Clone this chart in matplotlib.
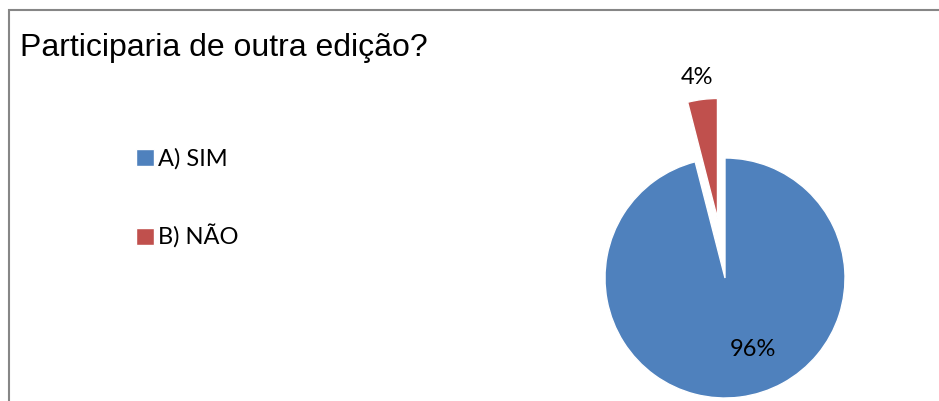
import matplotlib.pyplot as plt
from matplotlib.patches import Rectangle

# data
labels = ["A) SIM", "B) NÃO"]
values = [96, 4]
colors = ["#4F81BD", "#C0504D"]
title = "Participaria de outra edição?"

W, H = 939, 401
fig = plt.figure(figsize=(W / 100, H / 100), dpi=100)

# outer chart border (gray, like the spreadsheet frame)
fig.patches.append(Rectangle((9 / W, -0.1), 1.2, (H - 10) / H + 0.1,
                             transform=fig.transFigure, fill=False,
                             edgecolor="#868686", linewidth=1.5))

fig.text(20 / W, 1 - 48 / H, title, fontsize=23, family="Liberation Sans",
         va="center", ha="left", color="#000000")

# pie axes: whole figure, 1 data unit = 120 px, pie centre at (725, 278)
ax = fig.add_axes([0, 0, 1, 1])
r = 120.0
cx, cy = 725.0, H - 278.0
wedges, _ = ax.pie(values, colors=colors, startangle=90, counterclock=False,
                   explode=[0, 0.5], radius=1.0,
                   wedgeprops=dict(edgecolor="white", linewidth=1))
ax.set_xlim(-cx / r, (W - cx) / r)
ax.set_ylim(-cy / r, (H - cy) / r)
ax.set_aspect("auto")
ax.axis("off")

# percentage labels
ax.text(0.235, -0.6, f"{values[0]}%", fontsize=17, family="Lato",
        ha="center", va="center", color="#000000")
ax.text(-0.235, 1.667, f"{values[1]}%", fontsize=17, family="Lato",
        ha="center", va="center", color="#000000")

fig.legend(wedges, labels, loc="upper left",
           bbox_to_anchor=(115 / W, 1 - 127 / H), frameon=False,
           prop=dict(family="Lato", size=17), handlelength=0.75,
           handleheight=0.75, handletextpad=0.15, labelspacing=2.32)

fig.savefig("out.png", dpi=100)
